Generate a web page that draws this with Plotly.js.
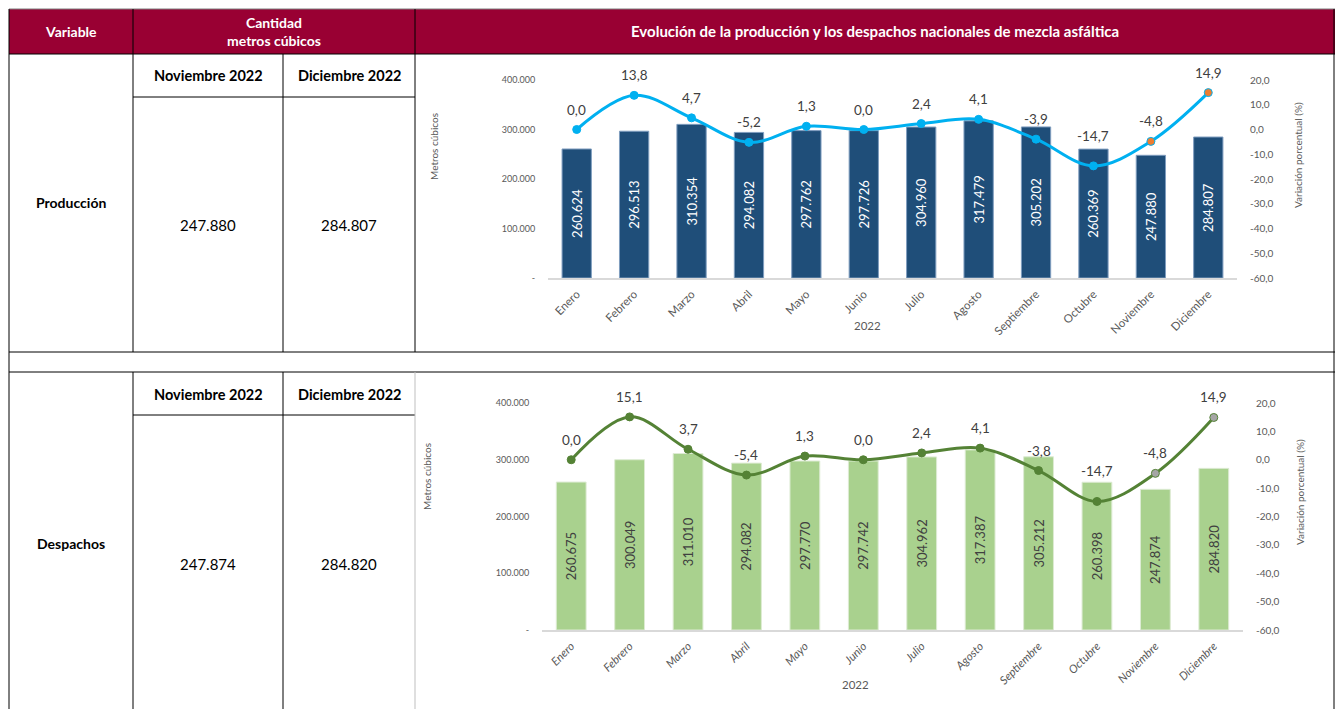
<!DOCTYPE html>
<html>
<head>
<meta charset="utf-8">
<script src="https://cdn.plot.ly/plotly-3.0.1.min.js"></script>
<style>html,body{margin:0;padding:0;background:#fff;}#chart{width:1335px;height:709px;}</style>
</head>
<body>
<div id="chart"></div>
<script>
// ---------- DATA ----------
const months = ["Enero","Febrero","Marzo","Abril","Mayo","Junio","Julio","Agosto","Septiembre","Octubre","Noviembre","Diciembre"];
const produccion = [260624,296513,310354,294082,297762,297726,304960,317479,305202,260369,247880,284807];
const produccionVar = [0.0,13.8,4.7,-5.2,1.3,0.0,2.4,4.1,-3.9,-14.7,-4.8,14.9];
const despachos = [260675,300049,311010,294082,297770,297742,304962,317387,305212,260398,247874,284820];
const despachosVar = [0.0,15.1,3.7,-5.4,1.3,0.0,2.4,4.1,-3.8,-14.7,-4.8,14.9];
const leftTickVals = [0,100000,200000,300000,400000];
const leftTickText = ["-","100.000","200.000","300.000","400.000"];
const rightTickVals = [-60,-50,-40,-30,-20,-10,0,10,20];
const rightTickText = ["-60,0","-50,0","-40,0","-30,0","-20,0","-10,0","0,0","10,0","20,0"];
const tableCols = ["Noviembre 2022","Diciembre 2022"];
const prodTable = ["247.880","284.807"];
const despTable = ["247.874","284.820"];
const yearLabel = "2022";

// ---------- LAYOUT HELPERS ----------
const W = 1335, H = 709;
const px = x => x / W;
const py = y => 1 - y / H;
const FONT = "Lato, 'Open Sans', sans-serif";
const GREY = "#595959";

const blue = "#00B0F0", orange = "#ED7D31";
const green = "#548235", greyM = "#A5A5A5";

const traces = [
  {type:"bar", x:months, y:produccion, xaxis:"x", yaxis:"y",
   marker:{color:"#1F4E79", line:{color:"#7F9DBF", width:1}},
   texttemplate:"%{y:,.0f}", textposition:"inside", insidetextanchor:"middle",
   textangle:-90, constraintext:"none",
   textfont:{family:FONT, size:13, color:"#ffffff"}, hoverinfo:"skip", showlegend:false},
  {type:"scatter", mode:"lines+markers", x:months, y:produccionVar, xaxis:"x", yaxis:"y2",
   line:{color:blue, width:3, shape:"spline", smoothing:1},
   marker:{size:8, color:months.map((m,i)=> i>=10 ? orange : blue), line:{color:blue, width:1}},
   cliponaxis:false, hoverinfo:"skip", showlegend:false},
  {type:"bar", x:months, y:despachos, xaxis:"x2", yaxis:"y3",
   marker:{color:"#A9D18E", line:{color:"#DDEBD3", width:1}},
   texttemplate:"%{y:,.0f}", textposition:"inside", insidetextanchor:"middle",
   textangle:-90, constraintext:"none",
   textfont:{family:FONT, size:13, color:"#404040"}, hoverinfo:"skip", showlegend:false},
  {type:"scatter", mode:"lines+markers", x:months, y:despachosVar, xaxis:"x2", yaxis:"y4",
   line:{color:green, width:3, shape:"spline", smoothing:1},
   marker:{size:8, color:months.map((m,i)=> i>=10 ? greyM : green), line:{color:green, width:1}},
   cliponaxis:false, hoverinfo:"skip", showlegend:false}
];

const xCommon = {
  type:"category", range:[-0.5, months.length - 0.5], showgrid:false, zeroline:false, showline:true,
  linecolor:"#D9D9D9", linewidth:2, tickangle:-45, ticks:"outside", ticklen:3, tickcolor:"rgba(0,0,0,0)", fixedrange:true
};
const yLeft = {
  range:[0,400000], tickvals:leftTickVals, ticktext:leftTickText, showgrid:false, zeroline:false,
  ticks:"outside", ticklen:10, tickcolor:"rgba(0,0,0,0)", tickfont:{family:FONT, size:9, color:GREY}, fixedrange:true
};
const yRight = {
  range:[-60,20], tickvals:rightTickVals, ticktext:rightTickText, showgrid:false, zeroline:false,
  side:"right", ticks:"outside", ticklen:10, tickcolor:"rgba(0,0,0,0)", tickfont:{family:FONT, size:10, color:GREY}, fixedrange:true
};

const layout = {
  width:W, height:H, margin:{l:0,r:0,t:0,b:0}, paper_bgcolor:"#fff", plot_bgcolor:"rgba(0,0,0,0)",
  separators:",.", font:{family:FONT, color:GREY}, bargap:0.49, showlegend:false,
  xaxis: Object.assign({}, xCommon, {domain:[px(548), px(1237)], anchor:"y", tickfont:{family:FONT, size:11.5, color:GREY}}),
  yaxis: Object.assign({}, yLeft, {domain:[py(278), py(80)], anchor:"x"}),
  yaxis2: Object.assign({}, yRight, {overlaying:"y", anchor:"x"}),
  xaxis2: Object.assign({}, xCommon, {domain:[px(542), px(1243)], anchor:"y3", tickfont:{family:FONT, size:11.5, color:GREY, style:"italic"}}),
  yaxis3: Object.assign({}, yLeft, {domain:[py(630), py(403)], anchor:"x2"}),
  yaxis4: Object.assign({}, yRight, {overlaying:"y3", anchor:"x2"}),
  shapes:[], annotations:[]
};

// table shapes
function hline(y, x0, x1, color){ layout.shapes.push({type:"line", xref:"paper", yref:"paper", x0:px(x0), x1:px(x1), y0:py(y), y1:py(y), line:{color:color||"#000", width:1}}); }
function vline(x, y0, y1, color){ layout.shapes.push({type:"line", xref:"paper", yref:"paper", x0:px(x), x1:px(x), y0:py(y0), y1:py(y1), line:{color:color||"#000", width:1}}); }
layout.shapes.push({type:"rect", xref:"paper", yref:"paper", x0:px(9), x1:px(1335), y0:py(54), y1:py(9), fillcolor:"#990033", line:{width:0}, layer:"below"});
hline(9, 9, 1335, "#7F7F7F");
hline(54, 9, 1335);
hline(97, 133, 415);
hline(352, 9, 1335);
hline(372, 9, 1335);
hline(415, 133, 415);
vline(9, 9, 709);
vline(1334, 9, 709);
vline(133, 9, 352); vline(133, 372, 709);
vline(283, 54, 352); vline(283, 372, 709);
vline(415, 9, 352); vline(415, 372, 709, "#BFBFBF");

function ann(text, x, y, opts){
  layout.annotations.push(Object.assign({text:text, xref:"paper", yref:"paper", x:px(x), y:py(y),
    xanchor:"center", yanchor:"middle", showarrow:false, font:{family:FONT, size:13, color:"#000"}}, opts||{}));
}
const whiteBold = {font:{family:FONT, size:14, color:"#fff"}};
ann("<b>Variable</b>", 71, 31, whiteBold);
ann("<b>Cantidad<br>metros cúbicos</b>", 274, 31, whiteBold);
ann("<b>Evolución de la producción y los despachos nacionales de mezcla asfáltica</b>", 875, 31, {font:{family:FONT, size:15, color:"#fff"}});
const hdr = {font:{family:FONT, size:14.5, color:"#000"}};
ann("<b>"+tableCols[0]+"</b>", 208, 75, hdr);
ann("<b>"+tableCols[1]+"</b>", 349, 75, hdr);
ann("<b>"+tableCols[0]+"</b>", 208, 394, hdr);
ann("<b>"+tableCols[1]+"</b>", 349, 394, hdr);
ann("<b>Producción</b>", 71, 202, {font:{family:FONT, size:14, color:"#000"}});
ann("<b>Despachos</b>", 71, 543, {font:{family:FONT, size:14, color:"#000"}});
const val = {font:{family:FONT, size:15, color:"#000"}};
ann(prodTable[0], 208, 225, val);
ann(prodTable[1], 349, 225, val);
ann(despTable[0], 208, 564, val);
ann(despTable[1], 349, 564, val);

// axis titles
const axT = {font:{family:FONT, size:10, color:GREY}, textangle:-90};
ann("Metros cúbicos", 434, 147, axT);
ann("Variación porcentual (%)", 1298, 155, axT);
ann("Metros cúbicos", 427, 477, axT);
ann("Variación porcentual (%)", 1300, 492, axT);
ann(yearLabel, 867, 326, {font:{family:FONT, size:11.5, color:GREY}});
ann(yearLabel, 855, 684, {font:{family:FONT, size:11.5, color:GREY}});

// line data labels (placed from the data through the axes)
function lineLabels(vals, xref, yref){
  vals.forEach((v, i) => {
    layout.annotations.push({
      text: v.toFixed(1).replace(".", ","), xref:xref, yref:yref, x:months[i], y:v,
      yshift: (months[i] === "Octubre") ? 30 : 20, yanchor:"middle", xanchor:"center",
      showarrow:false, font:{family:FONT, size:13.5, color:"#404040"}
    });
  });
}
lineLabels(produccionVar, "x", "y2");
lineLabels(despachosVar, "x2", "y4");

Plotly.newPlot("chart", traces, layout, {displayModeBar:false, staticPlot:true});
</script>
</body>
</html>
